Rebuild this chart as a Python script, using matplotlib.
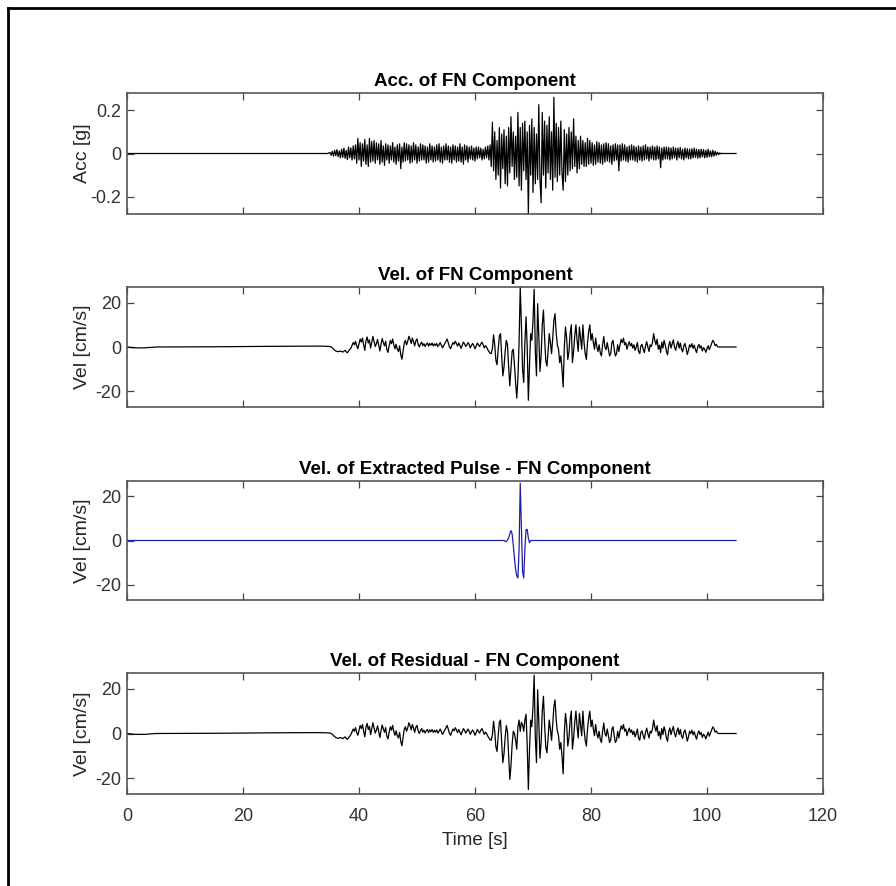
import numpy as np
import matplotlib
matplotlib.use("Agg")
import matplotlib.pyplot as plt
from matplotlib import font_manager

# шрифт: узкий, как в MATLAB-рисунке, если есть
names = {f.name for f in font_manager.fontManager.ttflist}
FONT = "Liberation Sans Narrow" if "Liberation Sans Narrow" in names else "Liberation Sans"
plt.rcParams["font.family"] = [FONT, "DejaVu Sans"]
plt.rcParams["axes.unicode_minus"] = False

# ---- данные ----
dt = 0.2
t_start = 35.0          # начало записи события, с
t_end = 105.0

# спокойный участок до события
pre_t = [0, 1, 2, 3, 4, 5, 15, 25, 33, 34.6]
pre_vel = [0, -0.3, -0.4, -0.4, -0.2, 0, 0.1, 0.3, 0.4, 0.3]
pre_acc = [0, 0, 0, 0, 0, 0, 0, 0, 0, 0]

# ускорение [g], шаг 0.2 с, 35.0 ... 104.8
acc = [
    0.005, -0.008, 0.01, -0.012, 0.015, -0.01, 0.018, -0.015, 0.012, -0.02,
    0.02, -0.018, 0.025, -0.022, 0.015, -0.028, 0.03, -0.02, 0.026, -0.03,
    0.035, -0.025, 0.04, -0.045, 0.07, -0.03, 0.05, -0.06, 0.045, -0.035,
    0.065, -0.05, 0.04, -0.06, 0.07, -0.04, 0.055, -0.035, 0.06, -0.045,
    0.05, -0.03, 0.045, -0.05, 0.06, -0.04, 0.035, -0.055, 0.045, -0.03,
    0.04, -0.045, 0.035, -0.03, 0.05, -0.04, 0.03, -0.05, 0.04, -0.035,
    0.045, -0.07, 0.03, -0.04, 0.05, -0.035, 0.045, -0.03, 0.04, -0.045,
    0.035, -0.04, 0.05, -0.03, 0.04, -0.045, 0.03, -0.035, 0.045, -0.03,
    0.04, -0.03, 0.035, -0.045, 0.03, -0.04, 0.045, -0.03, 0.035, -0.04,
    0.03, -0.035, 0.04, -0.03, 0.045, -0.04, 0.03, -0.045, 0.035, -0.03,
    0.045, -0.03, 0.035, -0.04, 0.03, -0.045, 0.04, -0.03, 0.035, -0.04,
    0.03, -0.035, 0.045, -0.04, 0.03, -0.05, 0.04, -0.03, 0.035, -0.04,
    0.03, -0.025, 0.035, -0.03, 0.025, -0.035, 0.03, -0.025, 0.03, -0.02,
    0.025, -0.03, 0.02, -0.025, 0.03, -0.02, 0.035, -0.03, 0.04, -0.06,
    0.145, -0.08, 0.1, -0.12, 0.06, -0.1, 0.12, -0.16, 0.09, -0.07,
    0.11, -0.14, 0.08, -0.15, 0.12, -0.09, 0.17, -0.06, 0.1, -0.12,
    0.08, -0.11, 0.19, -0.15, 0.12, -0.17, 0.14, -0.08, 0.15, -0.12,
    0.1, -0.28, 0.13, -0.1, 0.16, -0.18, 0.12, -0.14, 0.09, -0.12,
    0.226, -0.12, -0.228, 0.19, -0.1, 0.15, -0.16, 0.13, -0.09, 0.17,
    -0.12, 0.1, -0.17, 0.26, -0.11, 0.14, -0.13, 0.12, -0.1, 0.15,
    -0.09, -0.17, 0.11, -0.13, 0.09, -0.1, 0.12, -0.08, 0.1, -0.07,
    0.16, -0.06, 0.08, -0.09, 0.06, -0.07, 0.08, -0.05, 0.06, -0.06,
    0.05, -0.06, 0.07, -0.05, 0.06, -0.045, 0.05, -0.055, 0.04, -0.05,
    0.055, -0.04, 0.05, -0.045, 0.04, -0.05, 0.045, -0.04, 0.05, -0.035,
    0.045, -0.04, 0.035, -0.05, 0.04, -0.035, 0.045, -0.03, 0.04, -0.08,
    0.04, -0.035, 0.045, -0.03, 0.04, -0.035, 0.03, -0.04, 0.035, -0.03,
    0.04, -0.03, 0.035, -0.035, 0.03, -0.04, 0.035, -0.03, 0.03, -0.035,
    0.035, -0.03, 0.04, -0.025, 0.03, -0.035, 0.03, -0.025, 0.035, -0.03,
    0.03, -0.03, 0.035, -0.025, 0.03, -0.066, 0.025, -0.03, 0.03, -0.025,
    0.03, -0.025, 0.028, -0.03, 0.025, -0.025, 0.03, -0.02, 0.025, -0.03,
    0.025, -0.02, 0.028, -0.025, 0.02, -0.03, 0.025, -0.02, 0.022, -0.025,
    0.02, -0.025, 0.022, -0.02, 0.025, -0.018, 0.02, -0.022, 0.018, -0.02,
    0.02, -0.015, 0.018, -0.02, 0.015, -0.018, 0.02, -0.015, 0.012, -0.015,
    0.015, -0.012, 0.01, -0.008, 0.006, -0.005, 0.003, -0.002, 0.001, 0,
    0, 0, 0, 0, 0, 0, 0, 0, 0, 0,
]

# скорость [cm/s], тот же шаг
vel = [
    0.2, 0, -0.4, -0.9, -1.4, -1.8, -2.0, -2.1, -2.0, -1.8,
    -2.0, -2.3, -1.9, -1.5, -2.2, -2.6, -1.8, -1.2, -0.5, 0.8,
    2.0, 1.0, 2.6, 0.5, -0.8, 1.5, 3.6, 2.2, 4.0, 1.0,
    -1.5, 2.8, 4.5, 1.8, 3.2, -0.5, 2.2, 4.8, 2.5, 0.2,
    1.5, 3.4, 0.8, -1.8, 1.2, 3.8, 2.0, 0.5, 2.6, -1.2,
    -2.4, 0.5, 3.0, 1.5, 3.6, 1.0, -0.8, 1.2, -1.0, -2.0,
    0.5, -3.5, -5.5, -2.0, 1.8, 3.0, 1.0, 2.5, 4.8, 3.5,
    1.6, 4.0, 2.4, 0.5, 2.8, 3.6, 1.2, 0.0, 1.4, 2.2,
    0.6, 1.5, 0.2, 1.2, 1.8, 0.4, 1.6, 0.8, 1.8, 0.5,
    1.4, 0.6, 1.6, 0.2, 1.0, 2.0, 0.8, -0.4, 0.6, 1.5,
    2.5, 3.6, 1.8, 0.0, -0.8, 0.8, 2.0, 1.2, 2.6, 1.6,
    0.4, 1.8, 0.6, -0.6, 0.8, 2.2, 1.4, 0.2, 1.0, 2.0,
    1.0, -0.4, 0.8, 1.6, 0.6, -0.8, 0.4, 1.8, 1.0, 0.2,
    1.4, 2.2, 1.0, -0.4, 0.6, 0.0, -1.2, -2.0, -2.8, -3.0,
    -0.5, 5.5, 1.0, -6.0, -8.0, -1.0, 5.0, 6.0, -4.0, -13.0,
    -9.0, -2.0, 3.0, 1.0, -9.0, -17.5, -10.0, -2.0, -1.0, -8.0,
    -16.0, -23.0, -14.0, 2.0, 27.0, 10.0, -10.0, -16.0, 2.0, 13.6,
    0.0, -24.0, -8.0, 6.0, 3.0, 12.0, 26.0, -2.0, -13.0, 19.5,
    5.0, -11.0, -4.0, 10.0, 16.6, 4.0, -6.0, -8.6, -2.0, 6.0,
    2.0, -3.0, 4.0, 12.0, 15.0, 6.0, 1.0, -1.0, -7.0, -4.0,
    -10.0, -18.0, 0.0, 9.0, 4.0, -5.6, -2.0, 6.0, 10.0, -7.0,
    -2.0, 5.0, 10.0, 3.0, -2.0, 9.0, 4.0, -1.0, 10.0, 2.0,
    -3.0, -5.6, 2.0, 7.0, 10.0, 3.0, 6.0, 2.0, -1.0, 4.0,
    0.0, -2.0, 1.0, -2.7, -4.0, 1.0, 4.7, 0.0, -1.2, 2.0,
    -1.0, -4.0, -3.0, 2.0, 3.0, -1.0, -4.0, -3.0, 1.0, -2.0,
    1.0, 3.4, 2.0, 4.0, 1.0, 2.0, -1.0, 1.0, 2.4, 0.5,
    1.6, -0.5, 1.0, -1.5, 0.0, 2.0, -2.0, -3.0, 0.5, 1.2,
    -1.0, -2.5, 0.5, 2.4, 0.0, -2.0, 1.0, 0.2, 2.0, 6.0,
    3.0, 1.0, 3.5, -1.0, 0.8, -2.5, 2.2, -0.5, 3.0, 1.0,
    -2.0, -3.5, 0.8, 2.5, -0.5, 1.5, 3.2, 0.0, -1.5, 1.0,
    2.5, -0.5, 1.8, -1.0, -2.2, 0.5, 1.6, -0.6, -3.4, -1.5,
    1.0, 0.0, 1.5, -0.6, 0.8, -1.2, -2.5, 0.0, 1.2, -0.5,
    0.5, -1.8, -0.3, -1.0, -2.4, -0.8, 0.6, -1.2, 0.2, 1.6,
    3.0, 2.2, 0.6, 1.2, 0.2, 0.0, 0.0, 0.0, 0.0, 0.0,
    0.0, 0.0, 0.0, 0.0, 0.0, 0.0, 0.0, 0.0, 0.0, 0.0,
]

# выделенный импульс [cm/s] на той же сетке: начиная с 65.0 с
pulse_start = 65.0
pulse = [0, -0.3, -0.5, 0.2, 1.2, 3.0, 4.5, 3.0, -2.0, -8.0,
         -13.0, -16.0, -17.0, -4.0, 26.0, 5.0, -14.0, -17.0, -4.0, 5.0,
         5.0, 1.0, -1.0, 0]

titles = ["Acc. of FN Component", "Vel. of FN Component",
          "Vel. of Extracted Pulse - FN Component", "Vel. of Residual - FN Component"]
ylabels = ["Acc [g]", "Vel [cm/s]", "Vel [cm/s]", "Vel [cm/s]"]

# ---- сборка рядов ----
t_ev = t_start + dt * np.arange(len(acc))
t_all = np.concatenate([pre_t, t_ev, [t_end]])
acc_all = np.concatenate([pre_acc, acc, [0]])
vel_all = np.concatenate([pre_vel, vel, [0]])

pulse_full = np.zeros(len(vel))
i0 = int(round((pulse_start - t_start) / dt))
pulse_full[i0:i0 + len(pulse)] = pulse
pulse_all = np.concatenate([np.zeros(len(pre_t)), pulse_full, [0]])
resid_all = vel_all - pulse_all

series = [acc_all, vel_all, pulse_all, resid_all]
colors = ["black", "black", "#1f1fa8", "black"]

# ---- рисунок ----
fig = plt.figure(figsize=(8.96, 8.86), dpi=100)
W, H = 896, 886
boxes = [(93, 214), (287, 407), (481, 600), (673, 794)]   # верх/низ осей, px
left, right = 127, 823

for k, (top, bot) in enumerate(boxes):
    ax = fig.add_axes([left / W, 1 - bot / H, (right - left) / W, (bot - top) / H])
    ax.plot(t_all, series[k], color=colors[k], lw=0.9)
    ax.set_xlim(0, 120)
    ax.set_xticks([0, 20, 40, 60, 80, 100, 120])
    if k == 0:
        ax.set_ylim(-0.28, 0.28)
        ax.set_yticks([-0.2, 0, 0.2])
        ax.set_yticklabels(["-0.2", "0", "0.2"])
    else:
        ax.set_ylim(-27, 27)
        ax.set_yticks([-20, 0, 20])
    if k < 3:
        ax.set_xticklabels([])
    else:
        ax.set_xlabel("Time [s]", fontsize=13.5, color="#262626")
        ax.xaxis.set_label_coords(0.5, -0.31)
    ax.set_title(titles[k], fontsize=13.5, fontweight="bold", pad=5)
    ax.set_ylabel(ylabels[k], fontsize=14, color="#262626")
    ax.yaxis.set_label_coords(-0.052, 0.5)
    ax.tick_params(direction="in", length=5, width=0.9, top=True, right=True,
                   labelsize=13, colors="#444444", labelcolor="#333333")
    ax.tick_params(axis="x", pad=10)
    ax.tick_params(axis="y", pad=4)
    for s in ax.spines.values():
        s.set_color("#555555")
        s.set_linewidth(1.2)

# рамка скриншота (слева и сверху)
fig.add_artist(plt.Line2D([8 / W, 8 / W], [0, 1 - 8 / H], color="black", lw=2))
fig.add_artist(plt.Line2D([8 / W, 1], [1 - 8 / H, 1 - 8 / H], color="black", lw=2))

fig.savefig("out.png", dpi=100, facecolor="white")
